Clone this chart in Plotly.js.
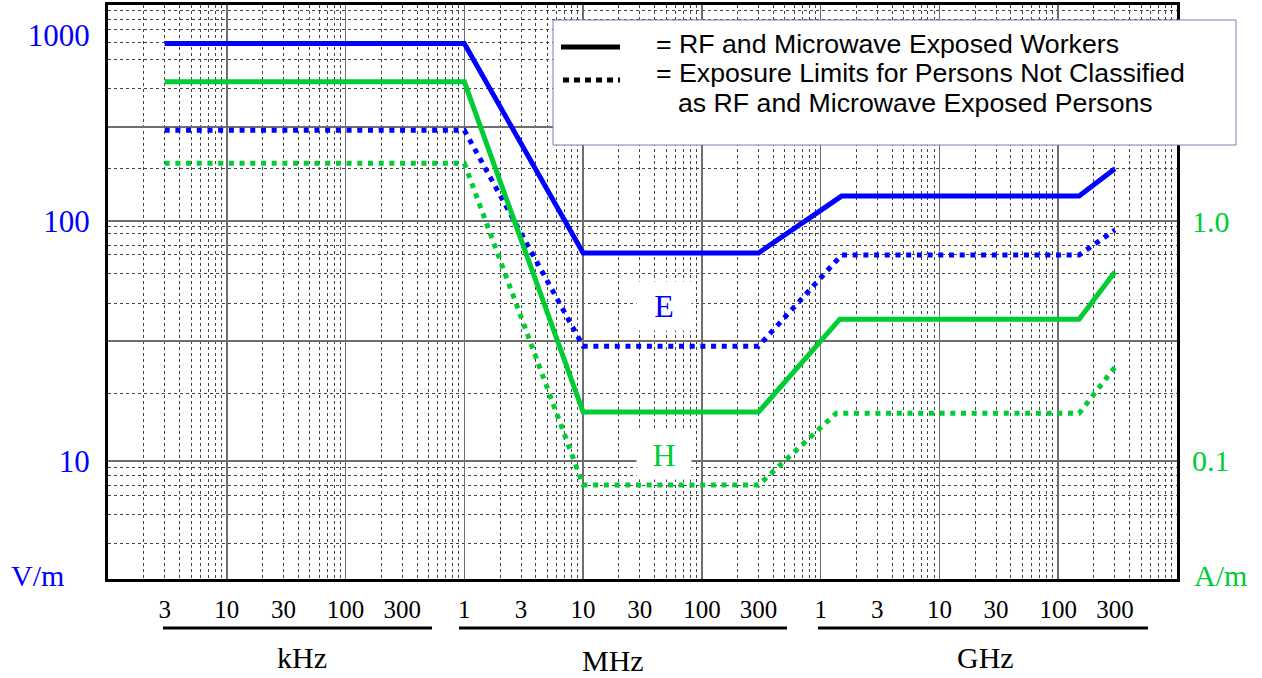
<!DOCTYPE html>
<html><head><meta charset="utf-8">
<script src="https://cdn.plot.ly/plotly-3.0.1.min.js"></script>
<style>html,body{margin:0;padding:0;background:#fff;} #chart{width:1262px;height:678px;}</style>
</head><body><div id="chart"></div>
<script>
// ---- data ----
const freqEWorkers = [3e3, 1e6, 1e7, 3e8, 1.5e9, 1.5e11, 3e11];          // Hz
const eWorkers     = [549, 549, 73.6, 73.6, 127, 127, 165];              // V/m
const freqEPublic  = [3e3, 1e6, 1e7, 3e8, 1.5e9, 1.5e11, 3e11];          // Hz
const ePublic      = [239, 239, 30.1, 30.1, 72.2, 72.2, 91.7];           // V/m
const freqHWorkers = [3e3, 1e6, 1e7, 3e8, 1.45e9, 1.5e11, 3e11];         // Hz
const hWorkers     = [3.80, 3.80, 0.160, 0.160, 0.390, 0.390, 0.613];    // A/m
const freqHPublic  = [3e3, 1e6, 1e7, 3e8, 1.35e9, 1.5e11, 3e11];         // Hz
const hPublic      = [1.74, 1.74, 0.0794, 0.0794, 0.158, 0.158, 0.246];  // A/m

const xTickVals = [3e3,1e4,3e4,1e5,3e5,1e6,3e6,1e7,3e7,1e8,3e8,1e9,3e9,1e10,3e10,1e11,3e11];
const xTickText = ['3','10','30','100','300','1','3','10','30','100','300','1','3','10','30','100','300'];
const yLeftTickVals  = [596, 100, 10];
const yLeftTickText  = ['1000', '100', '10'];
const yRightTickVals = [1, 0.1];
const yRightTickText = ['1.0', '0.1'];
const unitLabels   = ['kHz', 'MHz', 'GHz'];
const legendLabels = ['= RF and Microwave Exposed Workers',
                      '= Exposure Limits for Persons Not Classified',
                      'as RF and Microwave Exposed Persons'];
const fieldLabels  = ['E', 'H'];
const axisUnits    = ['V/m', 'A/m'];

// ---- grid layout (positions of the printed log-paper lines) ----
const xMajorGrid = [];
const xMinorGrid = [];
for (let k = 3; k <= 12; k++) {
  xMajorGrid.push(Math.pow(10, k));
  if (k < 12) for (let d = 2; d <= 9; d++) xMinorGrid.push(d * Math.pow(10, k));
}
const yMajorGridRight = [2.46, 0.316];
const yMinorGridLeft  = [750, 688, 625, 552, 469, 358, 166, 95.3, 88.3, 79.4, 72.2, 60.7, 45.5, 19.2, 9.44, 8.74, 7.94, 7.15, 5.96, 4.51];

// ---- geometry helpers (plot area in pixels) ----
const L = 108, R = 1177, T = 5, B = 579;
const px = x => (x - L) / (R - L);
const py = y => (B - y) / (B - T);

const BLUE = '#0000ff', GREEN = '#00cc33';
const SERIF = 'Liberation Serif, Times New Roman, serif';
const SANS = 'Liberation Sans, Arial, sans-serif';
const DOT = '5px,5.7px';

const traces = [
  {x: freqEWorkers, y: eWorkers, xaxis: 'x', yaxis: 'y', mode: 'lines', name: 'E workers',
   line: {color: BLUE, width: 5}, showlegend: false},
  {x: freqEPublic, y: ePublic, xaxis: 'x', yaxis: 'y', mode: 'lines', name: 'E public',
   line: {color: BLUE, width: 5, dash: DOT}, showlegend: false},
  {x: freqHWorkers, y: hWorkers, xaxis: 'x2', yaxis: 'y2', mode: 'lines', name: 'H workers',
   line: {color: GREEN, width: 5}, showlegend: false},
  {x: freqHPublic, y: hPublic, xaxis: 'x2', yaxis: 'y2', mode: 'lines', name: 'H public',
   line: {color: GREEN, width: 5, dash: DOT}, showlegend: false}
];

const yRange = [0.5083, 2.9];
const xRange = [3, 12];
const LEG_FONT = {family: SANS, size: 26.7, color: '#000'};

const layout = {
  width: 1262, height: 678,
  margin: {l: L, r: 1262 - R, t: T, b: 678 - B},
  paper_bgcolor: '#fff', plot_bgcolor: '#fff',
  showlegend: false,
  hovermode: false,
  xaxis: {
    type: 'log', range: xRange, tickmode: 'array', tickvals: xTickVals, ticktext: xTickText,
    showgrid: false, zeroline: false, ticks: '', ticklabelstandoff: 6,
    tickfont: {family: SERIF, size: 25, color: '#000'},
    showline: true, linecolor: '#000', linewidth: 3, mirror: true,
    minor: {tickmode: 'array', tickvals: xMinorGrid, showgrid: true, gridcolor: '#444',
            griddash: 'dot', gridwidth: 1, ticks: ''}
  },
  xaxis2: {
    type: 'log', range: xRange, overlaying: 'x', anchor: 'y', tickmode: 'array', tickvals: xMajorGrid,
    showticklabels: false, ticks: '', showgrid: true, gridcolor: '#6e6e6e', gridwidth: 1.5,
    zeroline: false, showline: false
  },
  yaxis: {
    type: 'log', range: yRange, tickmode: 'array', tickvals: yLeftTickVals, ticktext: yLeftTickText,
    showgrid: false, zeroline: false, ticks: '', ticklabelstandoff: 9,
    tickfont: {family: SERIF, size: 31, color: BLUE},
    showline: true, linecolor: '#000', linewidth: 3, mirror: true,
    minor: {tickmode: 'array', tickvals: yMinorGridLeft, showgrid: true, gridcolor: '#444',
            griddash: 'dot', gridwidth: 1, ticks: ''}
  },
  yaxis2: {
    type: 'log', range: [yRange[0] - 2, yRange[1] - 2], overlaying: 'y', side: 'right', anchor: 'x',
    tickmode: 'array', tickvals: yRightTickVals, ticktext: yRightTickText,
    showgrid: true, gridcolor: '#6e6e6e', gridwidth: 1.5, zeroline: false, ticks: '',
    ticklabelstandoff: 14, tickfont: {family: SERIF, size: 30, color: GREEN}, showline: false,
    minor: {tickmode: 'array', tickvals: yMajorGridRight, showgrid: true, gridcolor: '#6e6e6e',
            griddash: 'solid', gridwidth: 1.5, ticks: ''}
  },
  shapes: [
    // legend box
    {type: 'rect', xref: 'paper', yref: 'paper', x0: px(553), x1: px(1236), y0: py(145), y1: py(20),
     line: {color: '#7a7ab8', width: 1}, fillcolor: '#fff', layer: 'above'},
    {type: 'line', xref: 'paper', yref: 'paper', x0: px(561), x1: px(620), y0: py(47), y1: py(47),
     line: {color: '#000', width: 5}},
    {type: 'line', xref: 'paper', yref: 'paper', x0: px(563), x1: px(620), y0: py(80), y1: py(80),
     line: {color: '#000', width: 5, dash: '6px,5px'}},
    // unit group underlines
    {type: 'line', xref: 'paper', yref: 'paper', x0: px(163), x1: px(432), y0: py(628), y1: py(628),
     line: {color: '#000', width: 3}},
    {type: 'line', xref: 'paper', yref: 'paper', x0: px(459), x1: px(787), y0: py(628), y1: py(628),
     line: {color: '#000', width: 3}},
    {type: 'line', xref: 'paper', yref: 'paper', x0: px(818), x1: px(1148), y0: py(628), y1: py(628),
     line: {color: '#000', width: 3}}
  ],
  annotations: [
    {text: legendLabels[0], xref: 'paper', yref: 'paper', x: px(654), y: py(44), xanchor: 'left', yanchor: 'middle',
     showarrow: false, font: LEG_FONT},
    {text: legendLabels[1], xref: 'paper', yref: 'paper', x: px(654), y: py(73), xanchor: 'left', yanchor: 'middle',
     showarrow: false, font: LEG_FONT},
    {text: legendLabels[2], xref: 'paper', yref: 'paper', x: px(676), y: py(103), xanchor: 'left', yanchor: 'middle',
     showarrow: false, font: LEG_FONT},
    {text: fieldLabels[0], xref: 'paper', yref: 'paper', x: px(664), y: py(306), xanchor: 'center', yanchor: 'middle',
     showarrow: false, font: {family: SERIF, size: 32, color: BLUE}, bgcolor: '#fff', width: 52, height: 46},
    {text: fieldLabels[1], xref: 'paper', yref: 'paper', x: px(664), y: py(455), xanchor: 'center', yanchor: 'middle',
     showarrow: false, font: {family: SERIF, size: 32, color: GREEN}, bgcolor: '#fff', width: 52, height: 46},
    {text: axisUnits[0], xref: 'paper', yref: 'paper', x: px(37), y: py(575), xanchor: 'center', yanchor: 'middle',
     showarrow: false, font: {family: SERIF, size: 30, color: BLUE}},
    {text: axisUnits[1], xref: 'paper', yref: 'paper', x: px(1220), y: py(575), xanchor: 'center', yanchor: 'middle',
     showarrow: false, font: {family: SERIF, size: 30, color: GREEN}},
    {text: unitLabels[0], xref: 'paper', yref: 'paper', x: px(302), y: py(657), xanchor: 'center', yanchor: 'middle',
     showarrow: false, font: {family: SERIF, size: 30, color: '#000'}},
    {text: unitLabels[1], xref: 'paper', yref: 'paper', x: px(613), y: py(660), xanchor: 'center', yanchor: 'middle',
     showarrow: false, font: {family: SERIF, size: 30, color: '#000'}},
    {text: unitLabels[2], xref: 'paper', yref: 'paper', x: px(985), y: py(657), xanchor: 'center', yanchor: 'middle',
     showarrow: false, font: {family: SERIF, size: 30, color: '#000'}}
  ]
};

Plotly.newPlot('chart', traces, layout, {staticPlot: true, displayModeBar: false});
</script>
</body></html>
